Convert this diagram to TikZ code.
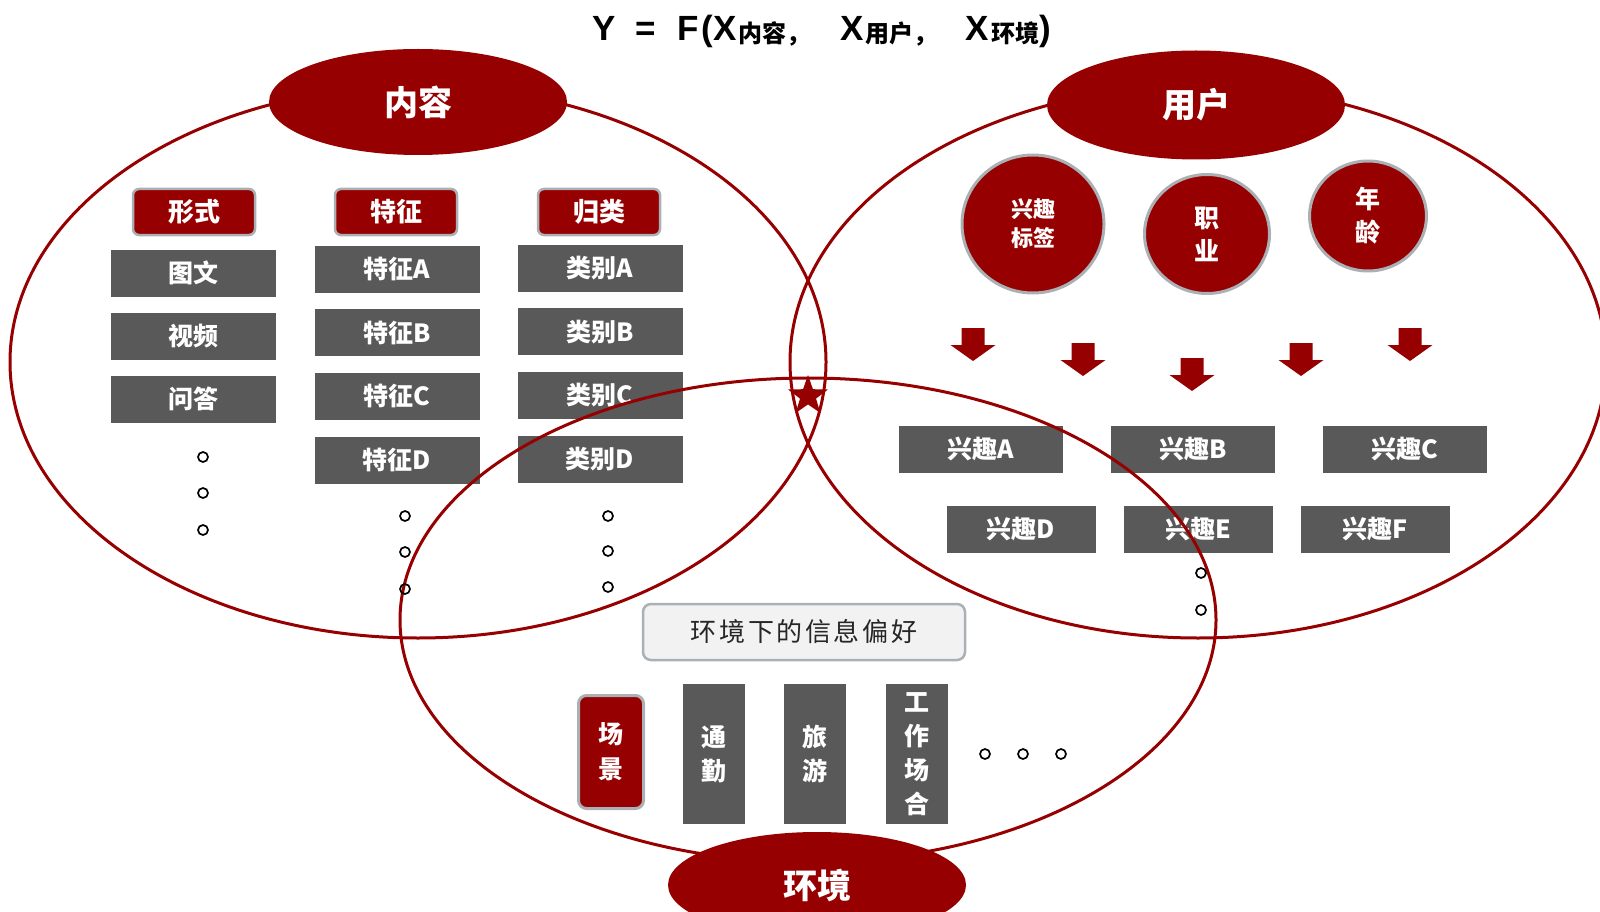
\documentclass[tikz,border=0pt]{standalone}
\usepackage{fontspec}
\setmainfont{Noto Sans CJK SC}
\newfontfamily\titlefont{Liberation Sans}
\newfontfamily\kuanzi[LetterSpace=10]{Noto Sans CJK SC}
\usepackage{tikz}
\usetikzlibrary{shapes,positioning}
\definecolor{darkred}{RGB}{150,0,0}
\definecolor{boxgray}{RGB}{89,89,89}
\definecolor{rimgray}{RGB}{170,176,180}
\definecolor{palegray}{RGB}{242,242,242}
\newcommand\xiaozi[1]{\raisebox{-2pt}{\normalfont\bfseries\fontsize{24}{24}\selectfont #1}}

\begin{document}
\begin{tikzpicture}[x=1pt, y=-1pt,
    ring/.style={ellipse, draw=darkred, line width=3pt, inner sep=0pt, minimum width=816pt},
    oval/.style={ellipse, fill=darkred, text=white, inner sep=0pt, minimum width=298pt, minimum height=106pt, font=\bfseries\fontsize{34}{34}\selectfont},
    tag/.style={rectangle, rounded corners=6pt, fill=darkred, draw=rimgray, line width=2.5pt, text=white, minimum width=122pt, minimum height=46pt, inner sep=0pt, font=\bfseries\fontsize{26}{26}\selectfont},
    item/.style={rectangle, fill=boxgray, text=white, minimum width=165pt, minimum height=47pt, inner sep=0pt, font=\bfseries\fontsize{25}{25}\selectfont},
    bubble/.style={ellipse, fill=darkred, draw=rimgray, line width=3pt, text=white, inner sep=0pt, align=center},
    pillar/.style={rectangle, fill=boxgray, text=white, minimum width=62pt, minimum height=140pt, inner sep=0pt, align=center, font=\bfseries\fontsize{25}{34}\selectfont},
    ringdot/.style={circle, draw=black, line width=1.7pt, minimum size=10pt, inner sep=0pt}
]
    \useasboundingbox (0,0) rectangle (1600,912);

    % Formula
    \node [anchor=base west, inner sep=0pt, font=\titlefont\bfseries\fontsize{35}{35}\selectfont] (gongshi) at (592,41)
        {Y\hspace{20pt}=\hspace{22pt}F\hspace{2pt}(X\hspace{2pt}\xiaozi{内容，}\hspace{30pt}X\hspace{2pt}\xiaozi{用户，}\hspace{28pt}X\hspace{2pt}\xiaozi{环境})};

    % Content columns
    \node [tag] (xingshi) at (194,212) {形式};
    \node [tag] (tezheng) at (396,212) {特征};
    \node [tag] (guilei) at (599,212) {归类};
    \foreach \i/\txt in {0/图文, 1/视频, 2/问答} {
        \node [item] (form\i) at (193,273+63*\i) {\txt};
    }
    \foreach \i/\c in {0/A, 1/B, 2/C, 3/D} {
        \node [item] (feat\c) at (397,269+63.7*\i) {特征\c};
        \node [item] (cat\c) at (600,268+63.7*\i) {类别\c};
    }

    % User side
    \node [bubble, minimum width=142pt, minimum height=138pt, font=\bfseries\fontsize{22}{29}\selectfont] (xingqu) at (1033,224) {兴趣\\标签};
    \node [bubble, minimum width=125pt, minimum height=119pt, font=\bfseries\fontsize{25}{33}\selectfont] (zhiye) at (1207,234) {职\\业};
    \node [bubble, minimum width=117pt, minimum height=110pt, font=\bfseries\fontsize{25}{33}\selectfont] (nianling) at (1368,216) {年\\龄};
    \foreach \x/\y in {973/328, 1083/343, 1192/358, 1301/343, 1410/328} {
        \fill [darkred] (\x-11.5,\y) -- (\x+11.5,\y) -- (\x+11.5,\y+17) -- (\x+22.5,\y+17)
            -- (\x,\y+33) -- (\x-22.5,\y+17) -- (\x-11.5,\y+17) -- cycle;
    }
    \foreach \c/\x in {A/981, B/1193, C/1405} {
        \node [item, minimum width=164pt] (interest\c) at (\x,449) {兴趣\c};
    }
    \foreach \c/\x in {D/1021, E/1198, F/1375} {
        \node [item, minimum width=149pt] (interest\c) at (\x,529) {兴趣\c};
    }

    % Environment side
    \node [rectangle, rounded corners=8pt, fill=palegray, draw=rimgray, line width=2.5pt, minimum width=322pt, minimum height=56pt,
        text={rgb,255:red,38;green,38;blue,38}, font=\kuanzi\fontsize{26}{26}\selectfont] (pianhao) at (804,632) {环境下的信息偏好};
    \node [rectangle, rounded corners=8pt, fill=darkred, draw=rimgray, line width=3pt, minimum width=65pt, minimum height=113pt,
        text=white, align=center, font=\bfseries\fontsize{25}{35}\selectfont] (changjing) at (611,752) {场\\景};
    \node [pillar] (tongqin) at (714,754) {通\\勤};
    \node [pillar] (lvyou) at (815,754) {旅\\游};
    \node [pillar] (gongzuo) at (917,754) {工\\作\\场\\合};

    % Three rings
    \node [ring, minimum height=552pt] (neirongquan) at (418,362) {};
    \node [ring, minimum height=552pt] (yonghuquan) at (1198,362) {};
    \node [ring, minimum height=484pt] (huanjingquan) at (808,620) {};

    % Ellipsis marks
    \foreach \x/\y [count=\n] in {203/457, 203/493, 203/530, 405/516, 405/552, 405/589, 608/516, 608/551, 608/587,
        1201/573, 1201/610, 985/754, 1023/754, 1061/754} {
        \node [ringdot] (dot\n) at (\x,\y) {};
    }

    % Ring labels
    \node [oval] (neirong) at (418,102) {内容};
    \node [oval, minimum height=109pt] (yonghu) at (1196,105) {用户};
    \node [oval] (huanjing) at (817,885) {环境};
    \node [star, star points=5, star point ratio=2.5, fill=darkred, minimum size=42pt, inner sep=0pt] (xing) at (808,396) {};
\end{tikzpicture}
\end{document}
